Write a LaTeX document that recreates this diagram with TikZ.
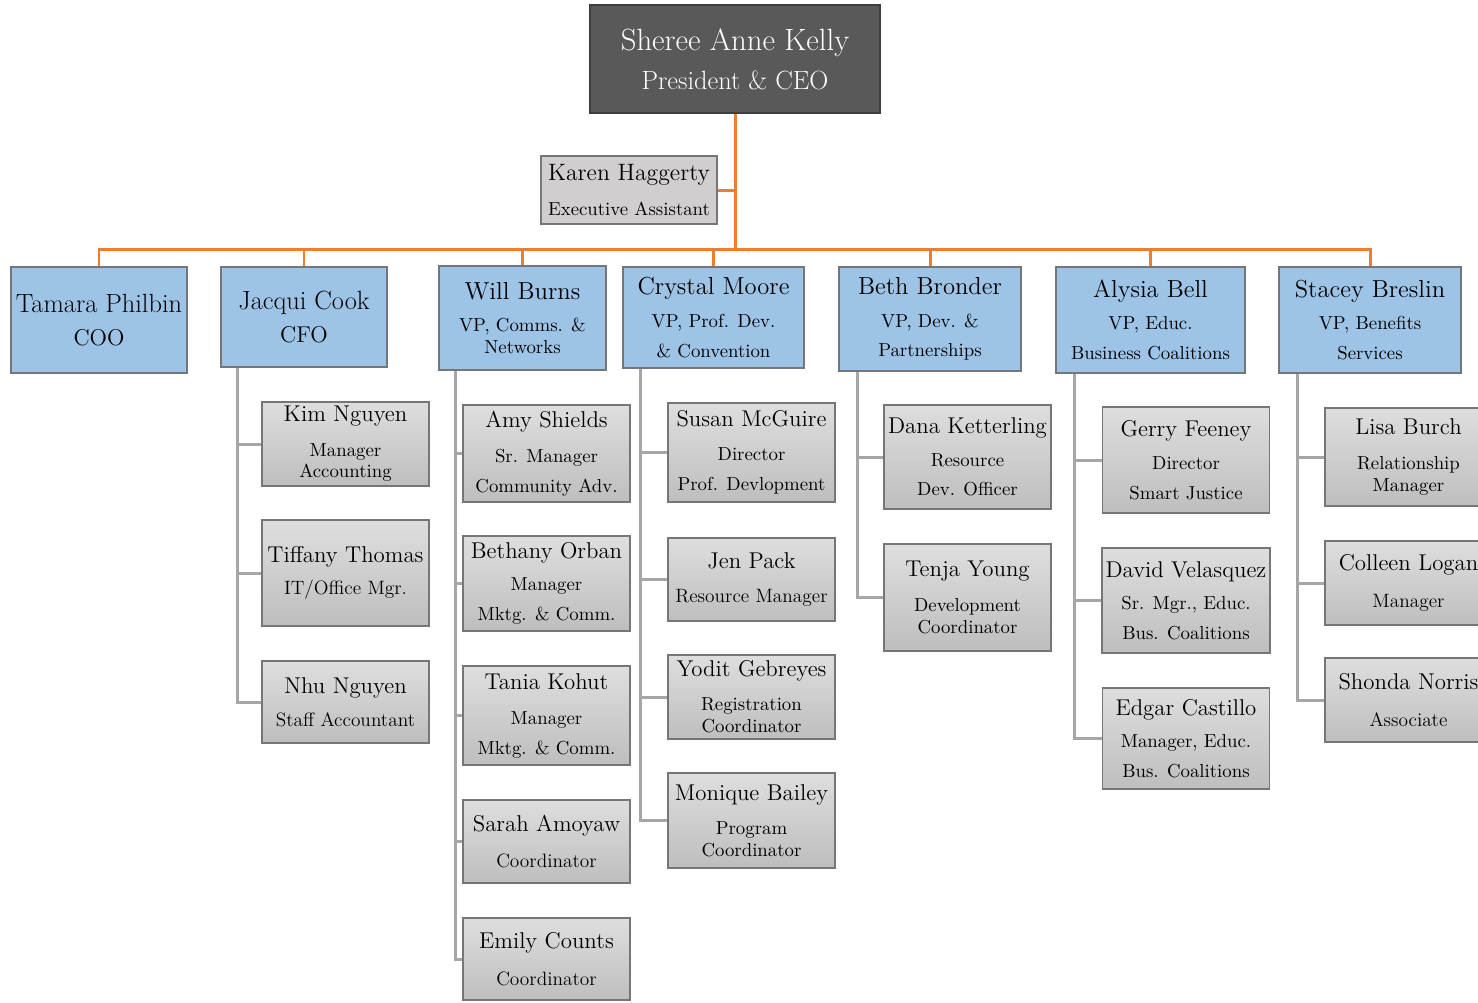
\documentclass[tikz,border=0pt]{standalone}
\usepackage{xcolor}
\definecolor{ceofill}{RGB}{89,89,89}
\definecolor{vpfill}{RGB}{157,195,230}
\definecolor{boxline}{RGB}{118,118,118}
\definecolor{greytop}{RGB}{222,222,222}
\definecolor{greybot}{RGB}{190,190,190}
\definecolor{eafill}{RGB}{208,206,206}
\definecolor{orangeline}{RGB}{237,125,49}
\definecolor{stemgrey}{RGB}{166,166,166}
\newcommand\nm{\fontsize{13}{15}\selectfont}
\newcommand\sub{\fontsize{10.7}{12.5}\selectfont}
\newcommand\subb{\fontsize{11}{13}\selectfont}

\begin{document}
\begin{tikzpicture}[x=0.02cm, y=-0.02cm,
    every node/.style={draw=boxline, line width=0.8pt, rectangle, inner sep=2pt, align=center},
    ceobox/.style={fill=ceofill, draw=ceofill!70!black, text=white, minimum width=5.8cm, minimum height=2.16cm},
    eabox/.style={fill=eafill, minimum width=3.52cm, minimum height=1.36cm, font=\sub},
    vpbox/.style={fill=vpfill, font=\sub},
    staffbox/.style={top color=greytop, bottom color=greybot, minimum width=3.34cm, font=\sub},
    oline/.style={draw=orangeline, line width=1.7pt},
    stem/.style={draw=stemgrey, line width=1.7pt}]
    \useasboundingbox (0,0) rectangle (1478,1002);
    \clip (0,0) rectangle (1478,1002);

    % Top
    \node[ceobox] (ceo) at (735,59) {{\fontsize{17.5}{20}\selectfont Sheree Anne Kelly}\\[7pt]{\fontsize{15}{18}\selectfont President \& CEO}};
    \node[eabox] (ea) at (629,190) {{\fontsize{13.5}{15}\selectfont Karen Haggerty}\\[7pt]\fontsize{10.7}{12}\selectfont Executive Assistant};

    % VPs
    \node[vpbox, minimum width=3.52cm, minimum height=2.12cm] (tamara) at (99,320) {{\fontsize{15}{17}\selectfont Tamara Philbin}\\[6pt]{\fontsize{13}{15}\selectfont COO}};
    \node[vpbox, minimum width=3.32cm, minimum height=2.0cm] (jacqui) at (304,317) {{\fontsize{15}{17}\selectfont Jacqui Cook}\\[6pt]{\fontsize{13}{15}\selectfont CFO}};
    \node[vpbox, minimum width=3.34cm, minimum height=2.08cm] (will) at (522.5,318) {{\fontsize{14}{16}\selectfont Will Burns}\\[6pt]VP, Comms. \&\\Networks};
    \node[vpbox, minimum width=3.62cm, minimum height=2.02cm] (crystal) at (713.5,317.5) {{\fontsize{14}{16}\selectfont Crystal Moore}\\[6pt]VP, Prof. Dev.\\[4.5pt]\& Convention};
    \node[vpbox, minimum width=3.64cm, minimum height=2.08cm] (beth) at (930,319) {{\fontsize{14}{16}\selectfont Beth Bronder}\\[6pt]VP, Dev. \&\\[4.5pt]Partnerships};
    \node[vpbox, minimum width=3.78cm, minimum height=2.12cm] (alysia) at (1150.5,320) {{\fontsize{14}{16}\selectfont Alysia Bell}\\[6pt]VP, Educ.\\[4.5pt]Business Coalitions};
    \node[vpbox, minimum width=3.64cm, minimum height=2.12cm] (stacey) at (1370,320) {{\fontsize{14}{16}\selectfont Stacey Breslin}\\[6pt]VP, Benefits\\[4.5pt]Services};

    % Finance
    \node[staffbox, minimum height=1.68cm] (kim) at (345.5,444) {{\nm Kim Nguyen}\\[7pt]Manager\\Accounting};
    \node[staffbox, minimum height=2.12cm, font=\subb] (tiffany) at (345.5,573) {{\nm Tiffany Thomas}\\[5pt]IT/Office Mgr.};
    \node[staffbox, minimum height=1.64cm, font=\subb] (nhu) at (345.5,702) {{\nm Nhu Nguyen}\\[6pt]Staff Accountant};

    % Comms
    \node[staffbox, minimum height=1.94cm] (amy) at (546.5,453.5) {{\nm Amy Shields}\\[7.5pt]Sr. Manager\\[4.5pt]Community Adv.};
    \node[staffbox, minimum height=1.9cm] (bethany) at (546.5,583.5) {{\nm Bethany Orban}\\[6pt]Manager\\[4.5pt]Mktg. \& Comm.};
    \node[staffbox, minimum height=1.98cm] (tania) at (546.5,715.5) {{\nm Tania Kohut}\\[7.5pt]Manager\\[4.5pt]Mktg. \& Comm.};
    \node[staffbox, minimum height=1.66cm, font=\subb] (sarah) at (546.5,841.5) {{\nm Sarah Amoyaw}\\[8pt]Coordinator};
    \node[staffbox, minimum height=1.64cm, font=\subb] (emily) at (546.5,959) {{\nm Emily Counts}\\[8pt]Coordinator};

    % Prof. Dev.
    \node[staffbox, minimum height=1.98cm] (susan) at (751.5,452.5) {{\nm Susan McGuire}\\[7pt]Director\\[4.5pt]Prof. Devlopment};
    \node[staffbox, minimum height=1.66cm, font=\subb] (jen) at (751.5,579.5) {{\nm Jen Pack}\\[6pt]Resource Manager};
    \node[staffbox, minimum height=1.68cm] (yodit) at (751.5,697) {{\nm Yodit Gebreyes}\\[7pt]Registration\\Coordinator};
    \node[staffbox, minimum height=1.9cm] (monique) at (751.5,820.5) {{\nm Monique Bailey}\\[7pt]Program\\Coordinator};

    % Dev.
    \node[staffbox, minimum height=2.08cm] (dana) at (967.5,457) {{\nm Dana Ketterling}\\[6pt]Resource\\[4.5pt]Dev. Officer};
    \node[staffbox, minimum height=2.14cm] (tenja) at (967.5,597.5) {{\nm Tenja Young}\\[7pt]Development\\Coordinator};

    % Educ.
    \node[staffbox, minimum height=2.12cm] (gerry) at (1186,460) {{\nm Gerry Feeney}\\[6pt]Director\\[4.5pt]Smart Justice};
    \node[staffbox, minimum height=2.1cm] (david) at (1186,600.5) {{\nm David Velasquez}\\[6pt]Sr. Mgr., Educ.\\[4.5pt]Bus. Coalitions};
    \node[staffbox, minimum height=2.02cm] (edgar) at (1186,738.5) {{\nm Edgar Castillo}\\[6pt]Manager, Educ.\\[4.5pt]Bus. Coalitions};

    % Benefits
    \node[staffbox, minimum height=1.96cm] (lisa) at (1408.5,457) {{\nm Lisa Burch}\\[7pt]Relationship\\Manager};
    \node[staffbox, minimum height=1.68cm, font=\subb] (colleen) at (1408.5,583) {{\nm Colleen Logan}\\[8pt]Manager};
    \node[staffbox, minimum height=1.68cm, font=\subb] (shonda) at (1408.5,700) {{\nm Shonda Norris}\\[8pt]Associate};

    % Edges
    \coordinate (bus) at (735,249);
    \draw[oline] (ceo.south) -- (bus);
    \draw[oline] (ea.east) -- (ea.east -| ceo.south);
    \foreach \v in {tamara,jacqui,will,crystal,beth,alysia,stacey}
        \draw[oline] (\v.north) |- (bus);

    \foreach \c in {kim,tiffany,nhu}
        \draw[stem] ([xshift=0.34cm]jacqui.south west) |- (\c.west);
    \foreach \c in {amy,bethany,tania,sarah,emily}
        \draw[stem] ([xshift=0.34cm]will.south west) |- (\c.west);
    \foreach \c in {susan,jen,yodit,monique}
        \draw[stem] ([xshift=0.36cm]crystal.south west) |- (\c.west);
    \foreach \c in {dana,tenja}
        \draw[stem] ([xshift=0.38cm]beth.south west) |- (\c.west);
    \foreach \c in {gerry,david,edgar}
        \draw[stem] ([xshift=0.38cm]alysia.south west) |- (\c.west);
    \foreach \c in {lisa,colleen,shonda}
        \draw[stem] ([xshift=0.38cm]stacey.south west) |- (\c.west);
\end{tikzpicture}
\end{document}
